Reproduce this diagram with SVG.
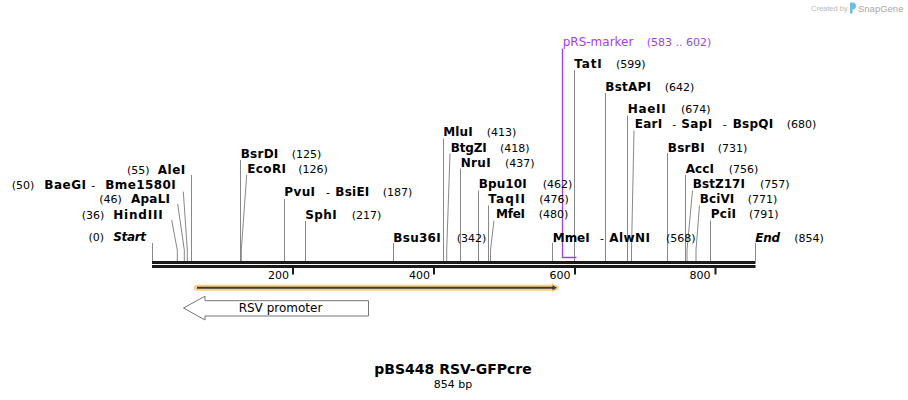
<svg xmlns="http://www.w3.org/2000/svg" width="908" height="400" viewBox="0 0 908 400">
<style>
.n{font-family:"DejaVu Sans",Verdana,sans-serif;font-weight:bold;font-size:12px;fill:#000}
.i{font-style:italic}
.p{font-family:"DejaVu Sans",Verdana,sans-serif;font-size:11px;fill:#000}
.f{font-family:"DejaVu Sans",Verdana,sans-serif;font-size:12px;fill:#a33fe8}
.fp{font-family:"DejaVu Sans",Verdana,sans-serif;font-size:11px;fill:#a33fe8}
.l{stroke:#888;stroke-width:1;fill:none}
.tk{font-family:"DejaVu Sans",Verdana,sans-serif;font-size:11px;fill:#000;text-anchor:end}
</style>
<rect width="908" height="400" fill="#fff"/>
<g id="watermark">
<text x="811" y="11" font-family="'Liberation Sans',Arial,sans-serif" font-size="7.5" fill="#b8b8b8">Created by</text>
<path d="M850,2.5 h2.5 a3,3 0 0 1 0,7 v4 h-2.5 z" fill="#6bbde8"/>
<text x="858" y="11.5" font-family="'Liberation Sans',Arial,sans-serif" font-size="9.5" fill="#a8a8a8">SnapGene</text>
</g>
<g id="connectors">
<path class="l" d="M152.5,243V261"/>
<path class="l" d="M171.7,220L177.3,250V261"/>
<path class="l" d="M177.7,204L184.3,250V261"/>
<path class="l" d="M183.3,191.7L187.3,250V261"/>
<path class="l" d="M191.5,175V261"/>
<path class="l" d="M240.5,160V261"/>
<path class="l" d="M246.7,175L241.3,250V261"/>
<path class="l" d="M284.5,199V261"/>
<path class="l" d="M305.5,221V261"/>
<path class="l" d="M393.5,243V261"/>
<path class="l" d="M443.5,138.5V261"/>
<path class="l" d="M450,153.5L446.7,250V261"/>
<path class="l" d="M460.5,168.5V261"/>
<path class="l" d="M478.5,190.5V261"/>
<path class="l" d="M488.5,205.5V261"/>
<path class="l" d="M494,220.5L490.5,250V261"/>
<path class="l" d="M552.5,243V261"/>
<path class="l" d="M574.5,70V261"/>
<path class="l" d="M605.5,93V261"/>
<path class="l" d="M627.5,115.5V261"/>
<path class="l" d="M634,130.5L631.5,250V261"/>
<path class="l" d="M667.5,153V261"/>
<path class="l" d="M685.5,175V261"/>
<path class="l" d="M692.5,190.5L687,250V261"/>
<path class="l" d="M699.5,205.5L696,250V261"/>
<path class="l" d="M710.5,220.5V261"/>
<path class="l" d="M755.5,243V261"/>
</g>
<g id="backbone">
<rect x="152" y="261" width="603.5" height="3" fill="#1a1a1a"/>
<rect x="152" y="265" width="603.5" height="3" fill="#1a1a1a"/>
<rect x="292" y="268" width="2" height="6.5" fill="#1a1a1a"/>
<rect x="433" y="268" width="2" height="6.5" fill="#1a1a1a"/>
<rect x="574" y="268" width="2" height="6.5" fill="#1a1a1a"/>
<rect x="714.5" y="268" width="2" height="6.5" fill="#1a1a1a"/>
<text class="tk" x="289" y="278.5">200</text>
<text class="tk" x="430" y="278.5">400</text>
<text class="tk" x="570.5" y="278.5">600</text>
<text class="tk" x="710.5" y="278.5">800</text>
</g>
<g id="pRS-marker">
<path d="M562.5,48.5V257.5H576.5" stroke="#a33fe8" stroke-width="1.3" fill="none"/>
<text class="f" x="562.7" y="46">pRS-marker</text>
<text class="fp" x="646.7" y="46">(583 .. 602)</text>
</g>
<g id="orf">
<path d="M197,287.7H555" stroke="#f9cf84" stroke-width="6" stroke-linecap="round" fill="none"/>
<path d="M552.5,284.2L558.5,287.7L552.5,291.2z" fill="#f9cf84" stroke="#f9cf84" stroke-width="1.5" stroke-linejoin="round"/>
<path d="M197,287.7H553" stroke="#3a3a3a" stroke-width="2" fill="none"/>
<path d="M552.5,285.2L557,287.7L552.5,290.2z" fill="#3a3a3a"/>
</g>
<g id="rsv-promoter">
<path d="M183.5,308L205,296.2V300.7H368.5V316H205V320z" fill="#fff" stroke="#777" stroke-width="1"/>
<text x="280.5" y="312" text-anchor="middle" font-family="'DejaVu Sans',Verdana,sans-serif" font-size="12" fill="#000">RSV promoter</text>
</g>
<g id="start"><text class="p" x="88.5" y="241">(0)</text><text class="n i" x="113.3" y="241" textLength="32.7">Start</text></g>
<g id="HindIII"><text class="p" x="81.7" y="218.5">(36)</text><text class="n" x="113.3" y="218.5" textLength="49.3">HindIII</text></g>
<g id="ApaLI"><text class="p" x="99.3" y="203">(46)</text><text class="n" x="131" y="203" textLength="39">ApaLI</text></g>
<g id="BaeGI"><text class="p" x="11.7" y="188.5">(50)</text><text class="n" x="44.3" y="188.5" textLength="41.7">BaeGI</text><text class="p" x="91.3" y="188.5">-</text><text class="n" x="105.3" y="188.5" textLength="70.4">Bme1580I</text></g>
<g id="AleI"><text class="p" x="127" y="174">(55)</text><text class="n" x="157.7" y="174" textLength="27.6">AleI</text></g>
<g id="BsrDI"><text class="n" x="240.7" y="157.7" textLength="37.6">BsrDI</text><text class="p" x="291.7" y="157.7">(125)</text></g>
<g id="EcoRI"><text class="n" x="247.3" y="172.5" textLength="38.7">EcoRI</text><text class="p" x="298.3" y="172.5">(126)</text></g>
<g id="PvuI"><text class="n" x="284.3" y="196" textLength="30.7">PvuI</text><text class="p" x="326" y="196">-</text><text class="n" x="335.3" y="196" textLength="34">BsiEI</text><text class="p" x="382.7" y="196">(187)</text></g>
<g id="SphI"><text class="n" x="305.3" y="218.5" textLength="31.4">SphI</text><text class="p" x="351.7" y="218.5">(217)</text></g>
<g id="Bsu36I"><text class="n" x="393.3" y="241.5" textLength="47.4">Bsu36I</text><text class="p" x="456.7" y="241.5">(342)</text></g>
<g id="MluI"><text class="n" x="443.3" y="136" textLength="29.4">MluI</text><text class="p" x="486.7" y="136">(413)</text></g>
<g id="BtgZI"><text class="n" x="450.7" y="151.5" textLength="36">BtgZI</text><text class="p" x="500" y="151.5">(418)</text></g>
<g id="NruI"><text class="n" x="460.7" y="166.5" textLength="30">NruI</text><text class="p" x="505" y="166.5">(437)</text></g>
<g id="Bpu10I"><text class="n" x="478.7" y="188.3" textLength="48">Bpu10I</text><text class="p" x="542.7" y="188.3">(462)</text></g>
<g id="TaqII"><text class="n" x="488.3" y="203" textLength="36.7">TaqII</text><text class="p" x="539.3" y="203">(476)</text></g>
<g id="MfeI"><text class="n" x="496" y="218" textLength="29">MfeI</text><text class="p" x="538.7" y="218">(480)</text></g>
<g id="MmeI"><text class="n" x="552.7" y="241.5" textLength="37">MmeI</text><text class="p" x="600" y="241.5">-</text><text class="n" x="609.3" y="241.5" textLength="40.7">AlwNI</text><text class="p" x="666" y="241.5">(568)</text></g>
<g id="TatI"><text class="n" x="574.3" y="68" textLength="27.4">TatI</text><text class="p" x="616" y="68">(599)</text></g>
<g id="BstAPI"><text class="n" x="605.3" y="90.5" textLength="45.7">BstAPI</text><text class="p" x="664.7" y="90.5">(642)</text></g>
<g id="HaeII"><text class="n" x="627.7" y="113" textLength="38">HaeII</text><text class="p" x="681" y="113">(674)</text></g>
<g id="EarI"><text class="n" x="634.7" y="128" textLength="27.6">EarI</text><text class="p" x="672.3" y="128">-</text><text class="n" x="681.3" y="128" textLength="31">SapI</text><text class="p" x="722.7" y="128">-</text><text class="n" x="732.7" y="128" textLength="40.6">BspQI</text><text class="p" x="786.7" y="128">(680)</text></g>
<g id="BsrBI"><text class="n" x="667.7" y="151.5" textLength="37">BsrBI</text><text class="p" x="717.7" y="151.5">(731)</text></g>
<g id="AccI"><text class="n" x="685.7" y="172.7" textLength="28.3">AccI</text><text class="p" x="728.7" y="172.7">(756)</text></g>
<g id="BstZ17I"><text class="n" x="692.7" y="188" textLength="52.3">BstZ17I</text><text class="p" x="760" y="188">(757)</text></g>
<g id="BciVI"><text class="n" x="699.7" y="203" textLength="34.6">BciVI</text><text class="p" x="747.7" y="203">(771)</text></g>
<g id="PciI"><text class="n" x="710.7" y="218" textLength="25.3">PciI</text><text class="p" x="749" y="218">(791)</text></g>
<g id="End"><text class="n i" x="755.3" y="241.5" textLength="24.7">End</text><text class="p" x="794.3" y="241.5">(854)</text></g>
<g id="title">
<text x="453" y="374" text-anchor="middle" font-family="'DejaVu Sans',Verdana,sans-serif" font-weight="bold" font-size="14" fill="#000">pBS448 RSV-GFPcre</text>
<text x="453" y="388" text-anchor="middle" font-family="'DejaVu Sans',Verdana,sans-serif" font-size="11" fill="#000">854 bp</text>
</g>
</svg>
